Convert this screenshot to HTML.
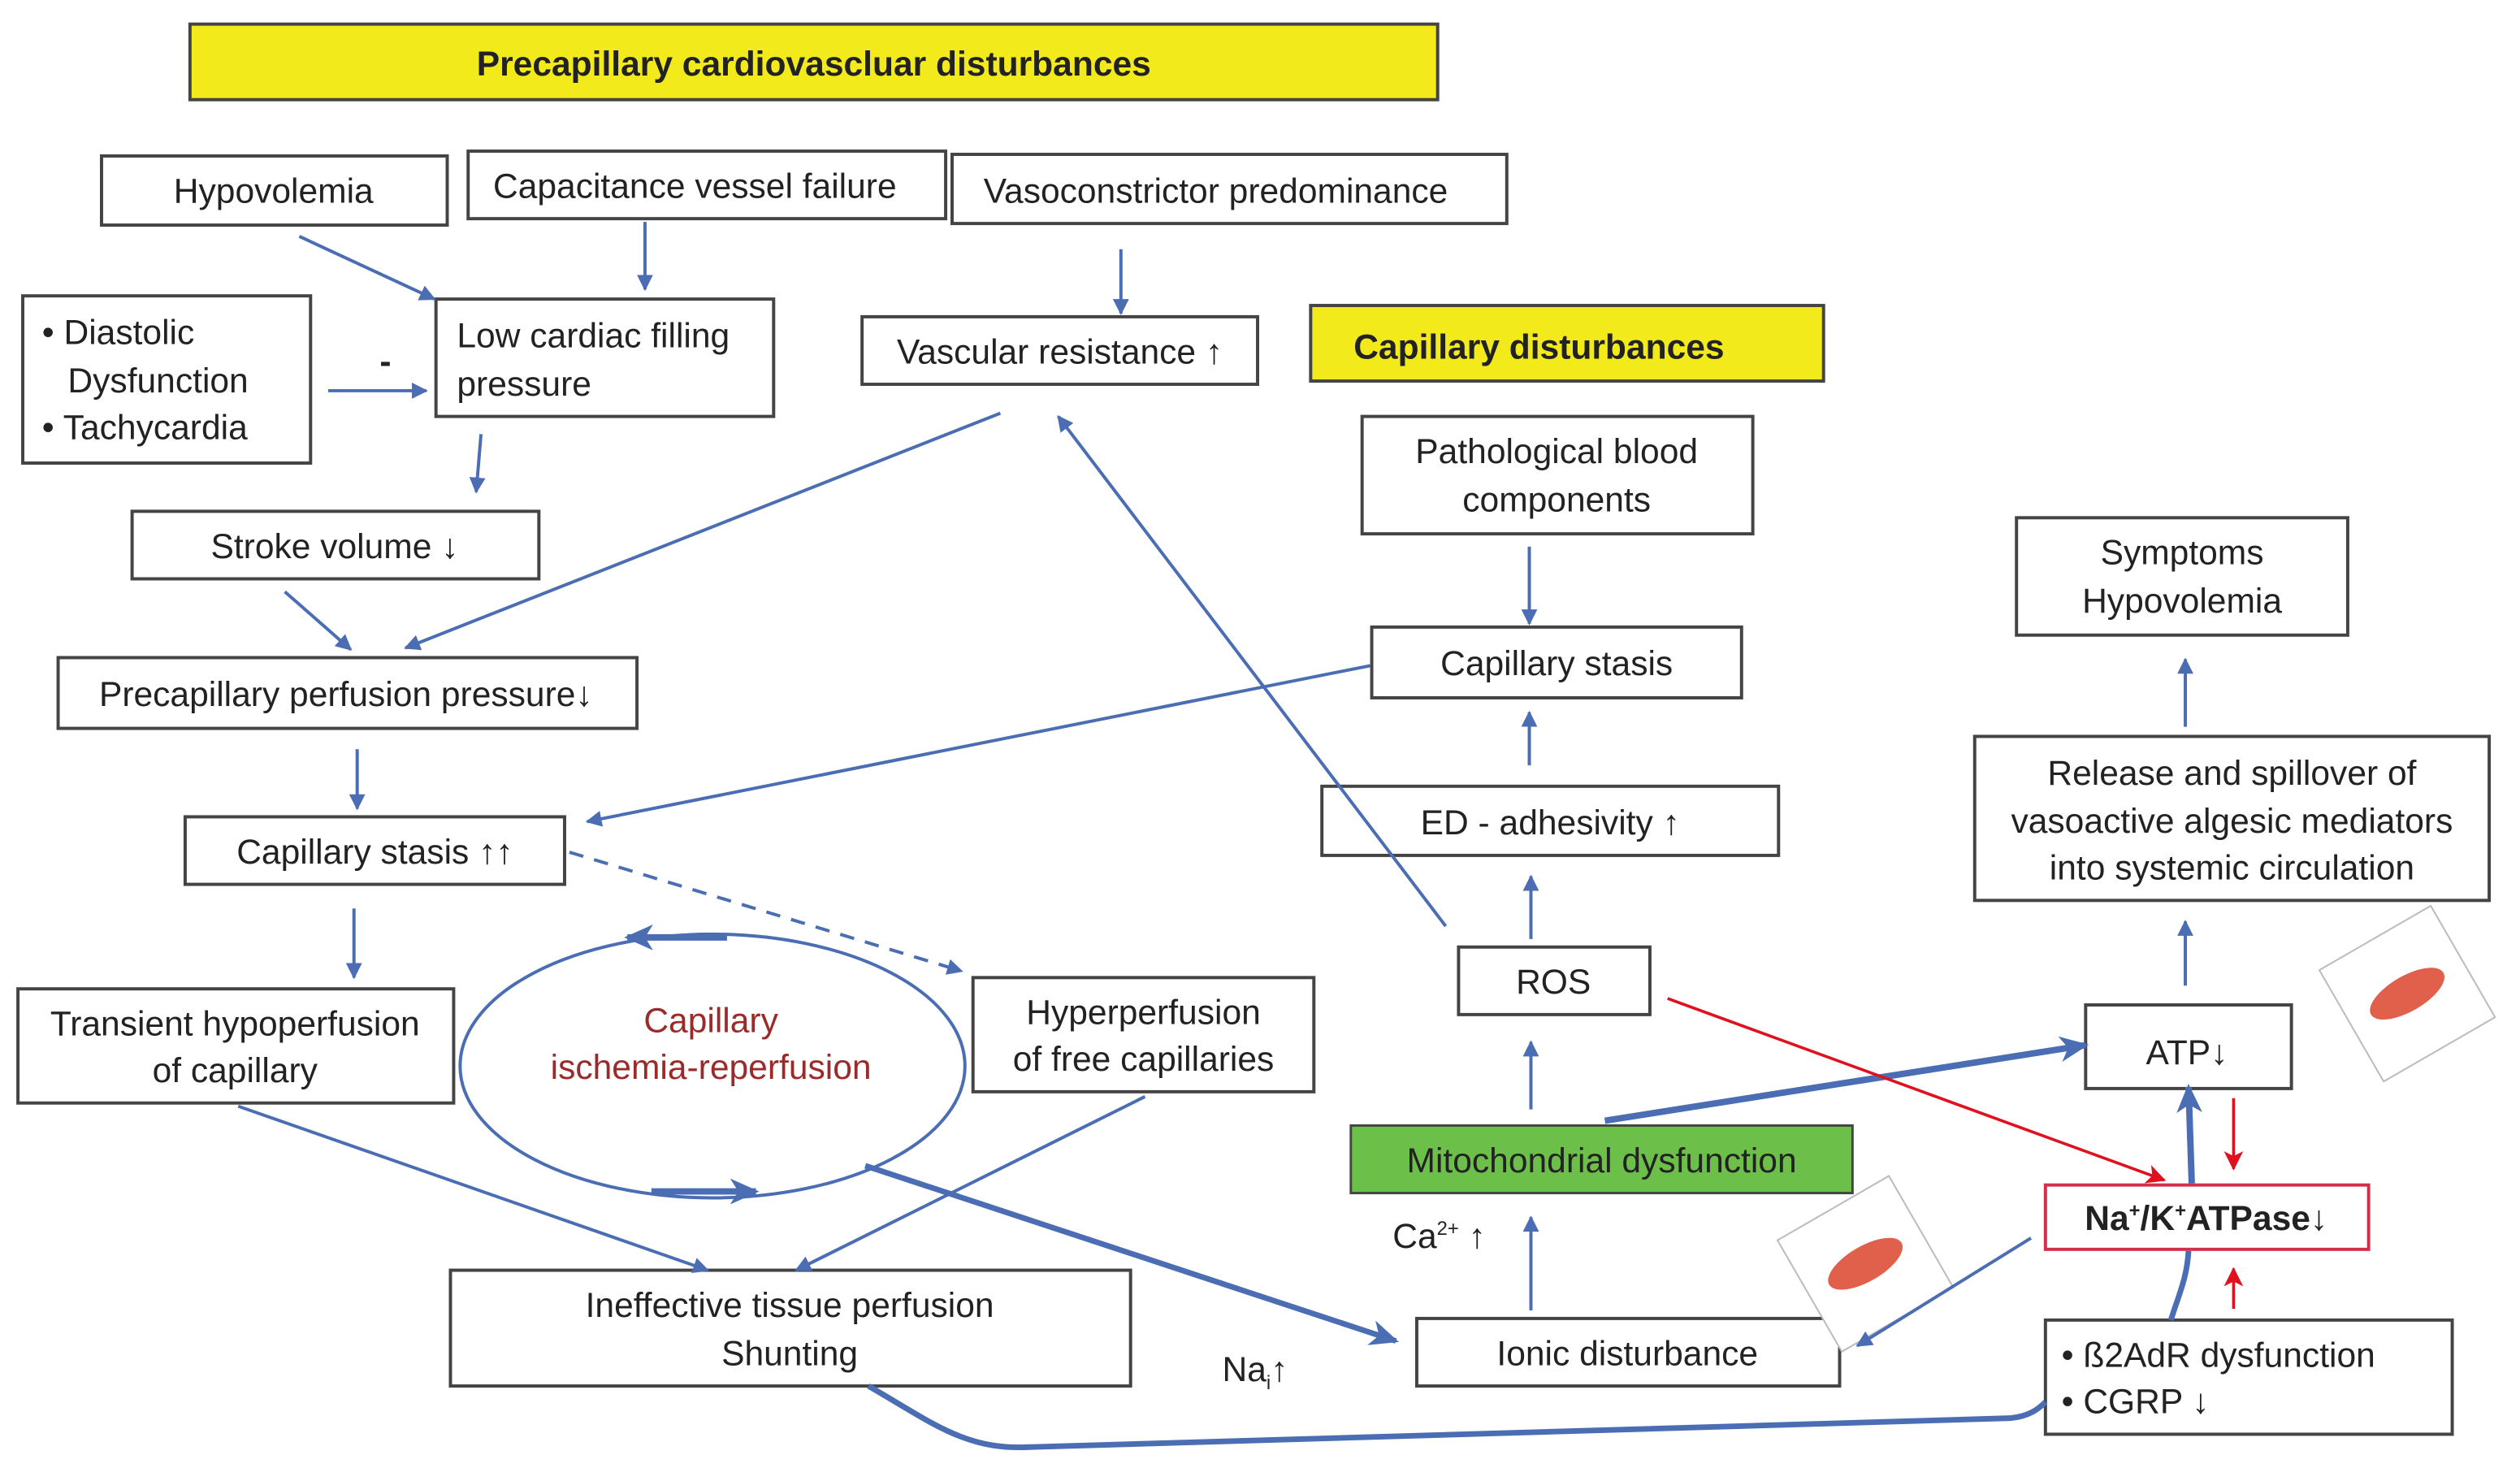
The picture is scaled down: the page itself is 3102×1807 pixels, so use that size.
<!DOCTYPE html>
<html><head><meta charset="utf-8"><style>
html,body{margin:0;padding:0;background:#fff;}
svg{display:block;}
text{font-family:"Liberation Sans",sans-serif;font-size:21.5px;fill:#222;}
.b{fill:#fff;stroke:#444;stroke-width:2;}
.a{stroke:#4a6db3;stroke-width:2;fill:none;marker-end:url(#ar);}
.t{stroke:#4a6db3;stroke-width:4;fill:none;}
</style></head><body>
<svg width="3102" height="1807" viewBox="0 0 1567 913" xmlns="http://www.w3.org/2000/svg">
<defs>
<marker id="ar" markerWidth="10" markerHeight="10" refX="9" refY="5" orient="auto" markerUnits="userSpaceOnUse"><path d="M0,0L10,5L0,10z" fill="#4a6db3"/></marker>
<marker id="arb" markerWidth="18" markerHeight="16" refX="16" refY="8" orient="auto" markerUnits="userSpaceOnUse"><path d="M0,0L18,8L0,16L5,8z" fill="#4a6db3"/></marker>
<marker id="arr" markerWidth="12" markerHeight="12" refX="11" refY="6" orient="auto" markerUnits="userSpaceOnUse"><path d="M0,0L12,6L0,12L3,6z" fill="#e0101e"/></marker>
</defs>
<rect width="1567" height="913" fill="#fff"/>

<rect x="118" y="15" width="776" height="47" fill="#f2ea1a" stroke="#444" stroke-width="2"/>
<text x="506" y="47" text-anchor="middle" font-weight="bold" font-size="24">Precapillary cardiovascluar disturbances</text>
<rect class="b" x="63" y="97" width="215" height="43"/><text x="170" y="126" text-anchor="middle">Hypovolemia</text>
<rect class="b" x="291" y="94" width="297" height="42"/><text x="432" y="123" text-anchor="middle">Capacitance vessel failure</text>
<rect class="b" x="592" y="96" width="345" height="43"/><text x="756" y="126" text-anchor="middle">Vasoconstrictor predominance</text>
<rect class="b" x="14" y="184" width="179" height="104"/>
<text x="26" y="214">•  Diastolic</text><text x="42" y="244">Dysfunction</text><text x="26" y="273">•  Tachycardia</text>
<rect class="b" x="271" y="186" width="210" height="73"/><text x="284" y="216">Low cardiac filling</text><text x="284" y="246">pressure</text>
<rect class="b" x="536" y="197" width="246" height="42"/><text x="659" y="226" text-anchor="middle">Vascular resistance ↑</text>
<rect x="815" y="190" width="319" height="47" fill="#f2ea1a" stroke="#444" stroke-width="2"/>
<text x="957" y="223" text-anchor="middle" font-weight="bold" font-size="23">Capillary disturbances</text>
<rect class="b" x="847" y="259" width="243" height="73"/><text x="968" y="288" text-anchor="middle">Pathological blood</text><text x="968" y="318" text-anchor="middle">components</text>
<rect class="b" x="1254" y="322" width="206" height="73"/><text x="1357" y="351" text-anchor="middle">Symptoms</text><text x="1357" y="381" text-anchor="middle">Hypovolemia</text>
<rect class="b" x="82" y="318" width="253" height="42"/><text x="208" y="347" text-anchor="middle">Stroke volume ↓</text>
<rect class="b" x="36" y="409" width="360" height="44"/><text x="215" y="439" text-anchor="middle">Precapillary perfusion pressure↓</text>
<rect class="b" x="853" y="390" width="230" height="44"/><text x="968" y="420" text-anchor="middle">Capillary stasis</text>
<rect class="b" x="1228" y="458" width="320" height="102"/>
<text x="1388" y="488" text-anchor="middle">Release and spillover of</text><text x="1388" y="518" text-anchor="middle">vasoactive algesic mediators</text><text x="1388" y="547" text-anchor="middle">into systemic circulation</text>
<rect class="b" x="115" y="508" width="236" height="42"/><text x="233" y="537" text-anchor="middle">Capillary stasis ↑↑</text>
<rect class="b" x="822" y="489" width="284" height="43"/><text x="964" y="519" text-anchor="middle">ED  - adhesivity ↑</text>
<rect class="b" x="907" y="589" width="119" height="42"/><text x="966" y="618" text-anchor="middle">ROS</text>
<rect class="b" x="1297" y="625" width="128" height="52"/><text x="1360" y="662" text-anchor="middle" font-size="27">ATP↓</text>
<rect class="b" x="11" y="615" width="271" height="71"/><text x="146" y="644" text-anchor="middle">Transient hypoperfusion</text><text x="146" y="673" text-anchor="middle">of capillary</text>
<rect class="b" x="605" y="608" width="212" height="71"/><text x="711" y="637" text-anchor="middle">Hyperperfusion</text><text x="711" y="666" text-anchor="middle">of free capillaries</text>
<rect x="840" y="700" width="312" height="42" fill="#6cc04a" stroke="#444" stroke-width="1.5"/><text x="996" y="729" text-anchor="middle">Mitochondrial dysfunction</text>
<rect x="1272" y="737" width="201" height="40" fill="#fff" stroke="#d0304a" stroke-width="2"/><text x="1372" y="765" text-anchor="middle" font-weight="bold" font-size="20">Na<tspan font-size="12" dy="-8">+</tspan><tspan dy="8">/K</tspan><tspan font-size="12" dy="-8">+</tspan><tspan dy="8">ATPase↓</tspan></text>
<rect class="b" x="280" y="790" width="423" height="72"/><text x="491" y="819" text-anchor="middle">Ineffective tissue perfusion</text><text x="491" y="849" text-anchor="middle">Shunting</text>
<rect class="b" x="881" y="820" width="263" height="42"/><text x="1012" y="849" text-anchor="middle">Ionic disturbance</text>
<rect class="b" x="1272" y="821" width="253" height="71"/><text x="1282" y="850">•  ß2AdR dysfunction</text><text x="1282" y="879">•  CGRP ↓</text>
<text x="866" y="776" font-size="20">Ca<tspan font-size="12" dy="-8">2+</tspan><tspan dy="8"> ↑</tspan></text>
<text x="760" y="859" font-size="20">Na<tspan font-size="12" dy="5">i</tspan><tspan dy="-5">↑</tspan></text>
<text x="236" y="232" font-weight="bold" font-size="26">-</text>

<ellipse cx="443" cy="663" rx="157" ry="82" fill="none" stroke="#4a6db3" stroke-width="2"/>
<text x="442" y="642" text-anchor="middle" style="fill:#9b2a2a">Capillary</text>
<text x="442" y="671" text-anchor="middle" style="fill:#9b2a2a">ischemia-reperfusion</text>
<path d="M452,583 L390,583" class="t" marker-end="url(#arb)"/>
<path d="M405,741 L470,741" class="t" marker-end="url(#arb)"/>

<g transform="translate(1160,786) rotate(-30)"><rect x="-40" y="-40" width="80" height="80" fill="#fff" stroke="#bbb"/><ellipse rx="26" ry="11" fill="#e0604c"/></g>
<g transform="translate(1497,618) rotate(-30)"><rect x="-40" y="-40" width="80" height="80" fill="#fff" stroke="#bbb"/><ellipse rx="26" ry="11" fill="#e0604c"/></g>

<path class="a" d="M186,147 L270,186"/>
<path class="a" d="M401,138 L401,180"/>
<path class="a" d="M204,243 L265,243"/>
<path class="a" d="M697,155 L697,195"/>
<path class="a" d="M299,270 L296,306"/>
<path class="a" d="M177,368 L218,404"/>
<path class="a" d="M622,257 L252,403"/>
<path class="a" d="M222,466 L222,503"/>
<path class="a" d="M852,414 L365,511"/>
<path class="a" d="M220,565 L220,608"/>
<path d="M354,530 L598,604" stroke="#4a6db3" stroke-width="2" stroke-dasharray="9,7" fill="none" marker-end="url(#ar)"/>
<path class="a" d="M951,340 L951,388"/>
<path class="a" d="M951,476 L951,443"/>
<path class="a" d="M952,584 L952,545"/>
<path class="a" d="M952,690 L952,648"/>
<path class="a" d="M952,815 L952,757"/>
<path class="a" d="M899,576 L658,259"/>
<path class="a" d="M1359,452 L1359,410"/>
<path class="a" d="M1359,613 L1359,573"/>
<path d="M998,697 L1297,650" stroke="#4a6db3" stroke-width="4" fill="none" marker-end="url(#arb)"/>
<path d="M1037,621 L1346,734" stroke="#e0101e" stroke-width="1.8" fill="none" marker-end="url(#arr)"/>
<path d="M1389,683 L1389,727" stroke="#e0101e" stroke-width="1.8" fill="none" marker-end="url(#arr)"/>
<path d="M1389,814 L1389,789" stroke="#e0101e" stroke-width="1.8" fill="none" marker-end="url(#arr)"/>
<path d="M1363,736 L1361,676" stroke="#4a6db3" stroke-width="4" fill="none" marker-end="url(#arb)"/>
<path d="M1350,821 C1355,805 1360,795 1361,778" stroke="#4a6db3" stroke-width="3.5" fill="none"/>
<path class="a" d="M1263,770 L1155,837"/>
<path class="a" d="M148,688 L440,790"/>
<path class="a" d="M712,682 L495,790"/>
<path d="M538,725 L868,834" stroke="#4a6db3" stroke-width="3.5" fill="none" marker-end="url(#arb)"/>
<path d="M540,862 C580,885 600,902 640,900 L1250,882 C1262,881 1268,876 1272,872" stroke="#4a6db3" stroke-width="3.5" fill="none"/>
</svg>
</body></html>
